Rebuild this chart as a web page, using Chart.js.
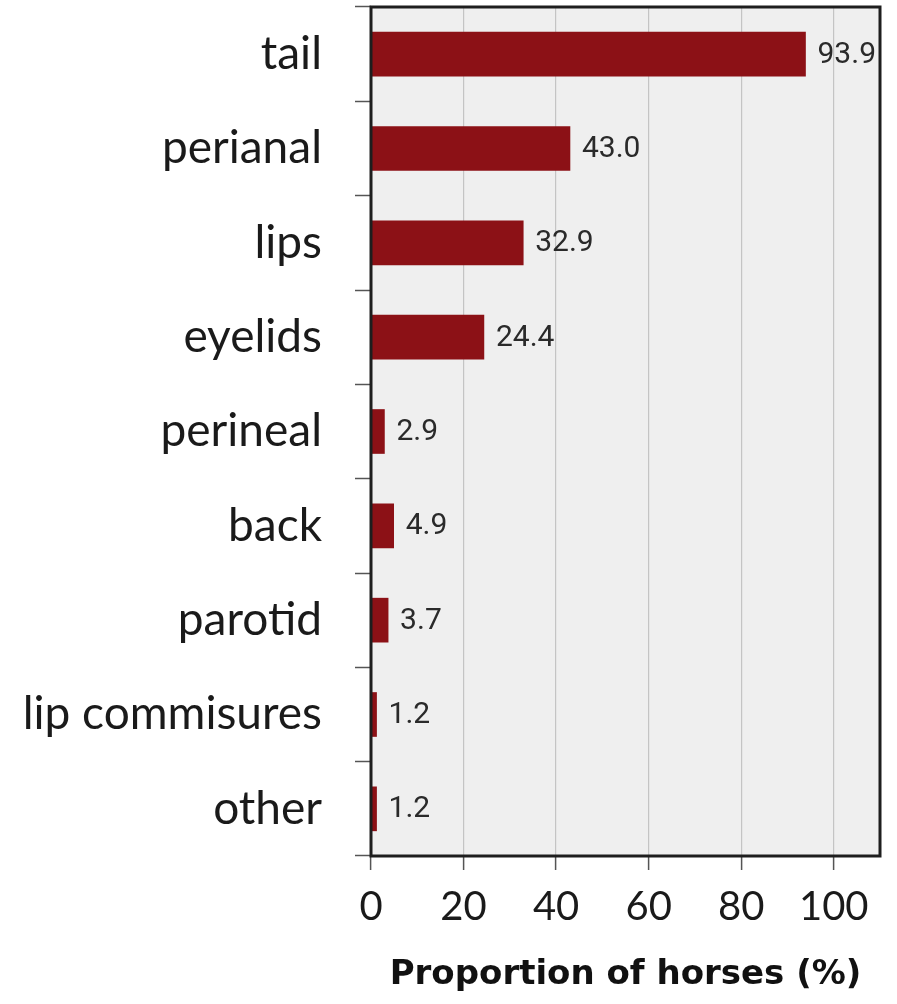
<!DOCTYPE html>
<html>
<head>
<meta charset="utf-8">
<script src="https://cdn.jsdelivr.net/npm/chart.js@4/dist/chart.umd.min.js"></script>
<style>
  html, body { margin: 0; padding: 0; background: #fff; }
  #wrap { width: 897px; height: 1004px; }
</style>
</head>
<body>
<div id="wrap"><canvas id="graf"></canvas></div>
<script>
// dados ------------------------------------------
const categorias = ['tail', 'perianal', 'lips', 'eyelids', 'perineal', 'back', 'parotid', 'lip commisures', 'other'];
const proporcao = [93.9, 43.0, 32.9, 24.4, 2.9, 4.9, 3.7, 1.2, 1.2];
const ticksX = [0, 20, 40, 60, 80, 100];

// fundo cinza e moldura da area do grafico
const molduraPlugin = {
  id: 'moldura',
  beforeDraw(chart) {
    const { ctx, chartArea: a } = chart;
    ctx.save();
    ctx.fillStyle = '#efefef';
    ctx.fillRect(a.left, a.top, a.right - a.left, a.bottom - a.top);
    ctx.restore();
  },
  afterDraw(chart) {
    const { ctx, chartArea: a } = chart;
    ctx.save();
    ctx.strokeStyle = '#1e1e1e';
    ctx.lineWidth = 3;
    ctx.strokeRect(a.left, a.top, a.right - a.left, a.bottom - a.top);
    ctx.restore();
  }
};

// rotulos com os valores ao lado das barras
const valoresPlugin = {
  id: 'valores',
  afterDatasetsDraw(chart) {
    const { ctx } = chart;
    const meta = chart.getDatasetMeta(0);
    ctx.save();
    ctx.font = '30px Roboto';
    ctx.fillStyle = '#2a2a2a';
    ctx.textAlign = 'left';
    ctx.textBaseline = 'middle';
    meta.data.forEach((bar, i) => {
      ctx.fillText(proporcao[i].toFixed(1), bar.x + 12, bar.y + 1);
    });
    ctx.restore();
  }
};

new Chart(document.getElementById('graf'), {
  type: 'bar',
  data: {
    labels: categorias,
    datasets: [{
      data: proporcao,
      backgroundColor: '#8c1116',
      barThickness: 44,
      borderWidth: 0
    }]
  },
  options: {
    indexAxis: 'y',
    responsive: true,
    maintainAspectRatio: false,
    animation: false,
    layout: { padding: { top: 7, right: 17, left: 0, bottom: 0 } },
    plugins: {
      legend: { display: false },
      tooltip: { enabled: false }
    },
    scales: {
      x: {
        min: 0,
        max: 110,
        afterFit(scale) { scale.height = 148; scale.paddingLeft = 0; scale.paddingRight = 0; },
        afterBuildTicks(scale) { scale.ticks = ticksX.map(v => ({ value: v })); },
        ticks: {
          stepSize: 20,
          includeBounds: false,
          padding: 13,
          color: '#1a1a1a',
          font: { family: 'Lato', size: 40, weight: 400 }
        },
        grid: {
          color: '#c4c4c4',
          lineWidth: 1.2,
          tickColor: '#555',
          tickLength: 14,
          tickWidth: 1.5
        },
        border: { display: false },
        title: {
          display: true,
          text: 'Proportion of horses (%)',
          color: '#111',
          padding: { top: 0, bottom: 8 },
          font: { family: 'DejaVu Sans', size: 34, weight: 'bold' }
        }
      },
      y: {
        afterFit(scale) { scale.width = 371; scale.paddingTop = 0; scale.paddingBottom = 0; },
        ticks: {
          padding: 33,
          color: '#1a1a1a',
          font: { family: 'Lato', size: 46 }
        },
        grid: {
          offset: true,
          drawOnChartArea: false,
          tickColor: '#555',
          tickLength: 16,
          tickWidth: 1.5
        },
        border: { display: false }
      }
    }
  },
  plugins: [molduraPlugin, valoresPlugin]
});
</script>
</body>
</html>
